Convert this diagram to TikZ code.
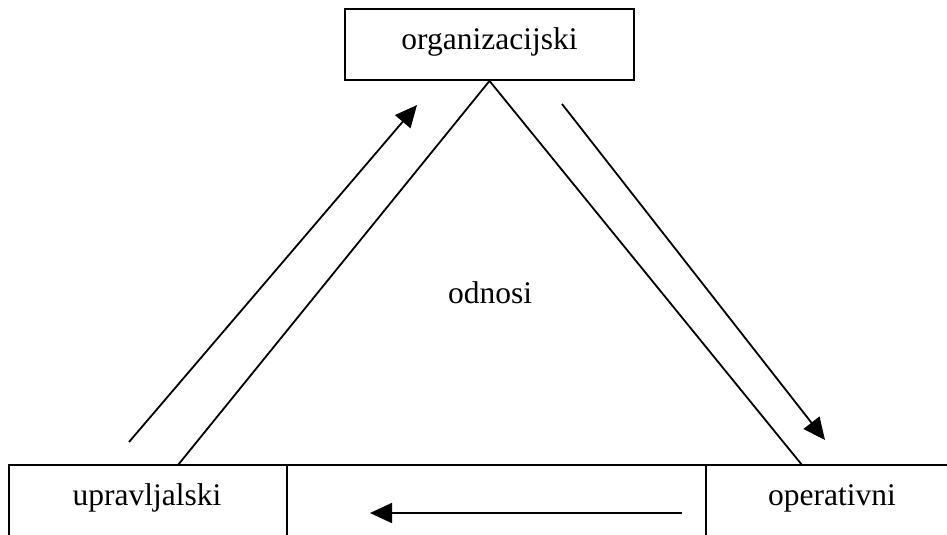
\documentclass[tikz,border=0pt]{standalone}
\usepackage{fontspec}
\setmainfont{Liberation Serif}
\usetikzlibrary{arrows.meta}
\begin{document}
\begin{tikzpicture}[x=1pt,y=-1pt,
  every node/.style={font=\fontsize{31.5}{36}\selectfont, inner sep=0pt},
  edge/.style={line width=1.8pt},
  flow/.style={line width=1.8pt, -{Triangle[length=22pt,width=20pt]}},
  label/.style={anchor=base}]
\useasboundingbox (0,0) rectangle (947,535);
\clip (0,0) rectangle (947,535);

% top box
\node[draw, line width=1.8pt, minimum width=289pt, minimum height=71pt] (org) at (489.5,44.5) {};
\node[label] (orgtext) at (489.5,50) {organizacijski};

% bottom band with the two boxes
\coordinate (bl) at (9,465);
\coordinate (br) at (947,465);
\coordinate (ldiv) at (287,465);
\coordinate (rdiv) at (706,465);
\draw[edge] (9,545) -- (bl) -- (br);
\draw[edge] (ldiv) -- (287,545);
\draw[edge] (rdiv) -- (706,545);
\node[label] (upr) at (147,505) {upravljalski};
\node[label] (ope) at (832,505) {operativni};

% triangle
\coordinate (lfoot) at (178,465);
\coordinate (rfoot) at (802,465);
\draw[edge] (lfoot) -- (org.south) -- (rfoot);
\node[label] (odn) at (490,303) {odnosi};

% arrows
\coordinate (a1s) at (129,442);
\coordinate (a1e) at (417,105);
\coordinate (a2s) at (562,104);
\coordinate (a2e) at (825,440);
\coordinate (a3s) at (682,513);
\coordinate (a3e) at (370,513);
\draw[flow] (a1s) -- (a1e);
\draw[flow] (a2s) -- (a2e);
\draw[flow] (a3s) -- (a3e);
\end{tikzpicture}
\end{document}
